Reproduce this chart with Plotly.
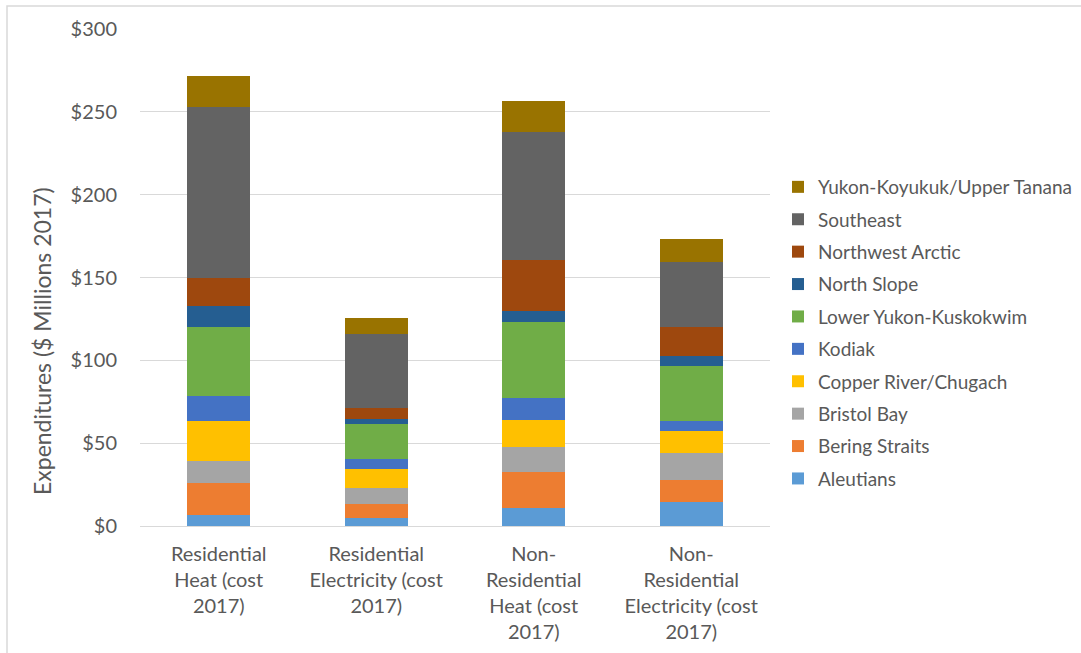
import plotly.graph_objects as go

# Energy expenditures by region, $ millions (2017)
categories = [
    "Residential<br>Heat (cost<br>2017)",
    "Residential<br>Electricity (cost<br>2017)",
    "Non-<br>Residential<br>Heat (cost<br>2017)",
    "Non-<br>Residential<br>Electricity (cost<br>2017)",
]

regions = [
    "Aleutians",
    "Bering Straits",
    "Bristol Bay",
    "Copper River/Chugach",
    "Kodiak",
    "Lower Yukon-Kuskokwim",
    "North Slope",
    "Northwest Arctic",
    "Southeast",
    "Yukon-Koyukuk/Upper Tanana",
]

aleutians = [6.5, 4.8, 10.7, 14.3]
bering_straits = [19.3, 8.3, 21.7, 13.5]
bristol_bay = [13.6, 10.0, 15.5, 16.1]
copper_river = [24.0, 11.1, 16.1, 13.5]
kodiak = [15.1, 6.3, 13.5, 6.2]
lower_yukon = [41.9, 20.9, 45.9, 33.2]
north_slope = [12.5, 3.2, 6.4, 5.9]
northwest_arctic = [16.7, 6.8, 30.8, 17.3]
southeast = [103.6, 44.5, 77.5, 39.6]
yukon_koyukuk = [18.7, 9.5, 18.7, 13.5]

series = [
    aleutians, bering_straits, bristol_bay, copper_river, kodiak,
    lower_yukon, north_slope, northwest_arctic, southeast, yukon_koyukuk,
]

colors = [
    "#5B9BD5", "#ED7D31", "#A5A5A5", "#FFC000", "#4472C4",
    "#70AD47", "#255E91", "#9E480E", "#636363", "#997300",
]

y_ticks = [0, 50, 100, 150, 200, 250, 300]
y_tick_labels = ["$0", "$50", "$100", "$150", "$200", "$250", "$300"]

TEXT = "#595959"
GRID = "#D9D9D9"
FONT = "Lato"

fig = go.Figure()
for i, (name, vals, col) in enumerate(zip(regions, series, colors)):
    fig.add_trace(go.Bar(
        name=name,
        x=categories,
        y=vals,
        marker=dict(color=col, line=dict(width=0)),
        legendgroup=name,
        legendrank=1000 - i,  # top of the stack listed first
    ))

# plot area in pixels: x 140..770, y 29..526 on a 1081x653 page
L, R, T, B = 140, 311, 29, 127
W, H = 1081 - L - R, 653 - T - B


def px_x(p):
    return (p - L) / W


def px_y(p):
    return (653 - B - p) / H


fig.update_layout(
    width=1081,
    height=653,
    margin=dict(l=L, r=R, t=T, b=B, pad=0, autoexpand=False),
    barmode="stack",
    bargap=0.6,
    plot_bgcolor="white",
    paper_bgcolor="white",
    font=dict(family=FONT, color=TEXT, size=18),
    legend=dict(
        traceorder="grouped",
        tracegroupgap=4.7,
        x=px_x(778),
        xanchor="left",
        y=px_y(168),
        yanchor="top",
        font=dict(family=FONT, size=19, color=TEXT),
        bgcolor="rgba(0,0,0,0)",
    ),
    xaxis=dict(
        automargin=False,
        showgrid=False,
        showline=False,
        ticks="",
        tickfont=dict(family=FONT, size=20, color=TEXT),
        ticklabelstandoff=14,
    ),
    yaxis=dict(
        automargin=False,
        range=[0, 300],
        tickmode="array",
        tickvals=y_ticks,
        ticktext=y_tick_labels,
        showgrid=True,
        gridcolor=GRID,
        gridwidth=1,
        zeroline=True,
        zerolinecolor=GRID,
        zerolinewidth=1,
        showline=False,
        ticks="",
        tickfont=dict(family=FONT, size=20, color=TEXT),
        ticklabelstandoff=22,
    ),
    annotations=[
        dict(
            text="Expenditures ($ Millions 2017)",
            textangle=-90,
            xref="paper", yref="paper",
            x=px_x(42), y=px_y(341),
            xanchor="center", yanchor="middle",
            showarrow=False,
            font=dict(family=FONT, size=23, color=TEXT),
        )
    ],
    shapes=[
        # chart frame (left and top edges visible)
        dict(
            type="rect", xref="paper", yref="paper",
            x0=px_x(7), x1=px_x(1090),
            y0=px_y(662), y1=px_y(6),
            line=dict(color=GRID, width=1.5),
            fillcolor="rgba(0,0,0,0)",
            layer="below",
        )
    ],
)

fig.write_html("out.html")
